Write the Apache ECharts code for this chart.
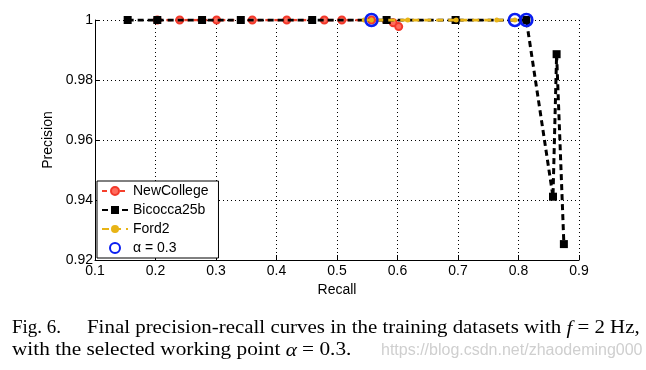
<!DOCTYPE html>
<html>
<head>
<meta charset="utf-8">
<script src="https://cdn.jsdelivr.net/npm/echarts@6/dist/echarts.min.js"></script>
<style>
html,body{margin:0;padding:0;background:#fff;}
#c{width:646px;height:370px;}
</style>
</head>
<body>
<div id="c"></div>
<script>
// ---- data ----
const xTicks = [0.1, 0.2, 0.3, 0.4, 0.5, 0.6, 0.7, 0.8, 0.9];
const yTicks = [0.92, 0.94, 0.96, 0.98, 1];

const newCollegeRecall = [0.203, 0.240, 0.301, 0.360, 0.417, 0.479, 0.508, 0.557, 0.593, 0.602];
const newCollegePrec   = [1, 1, 1, 1, 1, 1, 1, 1, 0.9991, 0.9978];

const bicoccaRecall = [0.154, 0.203, 0.277, 0.341, 0.459, 0.582, 0.696, 0.813, 0.857, 0.863, 0.875];
const bicoccaPrec   = [1, 1, 1, 1, 1, 1, 1, 1, 0.9411, 0.9886, 0.9253];

const ford2Recall = [0.545, 0.557, 0.617, 0.697, 0.764, 0.794];
const ford2Prec   = [1, 1, 1, 1, 1, 1];

const alphaRecall = [0.557, 0.794, 0.813];
const alphaPrec   = [1, 1, 1];

const seriesNames = ['NewCollege', 'Bicocca25b', 'Ford2', 'α = 0.3'];

function pairs(xs, ys) { return xs.map((x, i) => [x, ys[i]]); }

const FONT = '"Liberation Sans", Arial, sans-serif';
const SERIF = '"Liberation Serif", "Times New Roman", serif';

const chart = echarts.init(document.getElementById('c'), null, {renderer: 'canvas'});
chart.setOption({
  animation: false,
  backgroundColor: '#fff',
  grid: {left: 95, right: 67, top: 20, bottom: 110},
  xAxis: {
    type: 'value', min: 0.1, max: 0.9, interval: 0.1,
    name: 'Recall', nameLocation: 'middle', nameGap: 18,
    nameTextStyle: {fontFamily: FONT, fontSize: 14, color: '#000'},
    axisLine: {show: true, onZero: false, lineStyle: {color: '#000', width: 1}},
    axisTick: {show: true, inside: true, length: 5, lineStyle: {color: '#000'}},
    axisLabel: {fontFamily: FONT, fontSize: 14, color: '#000', margin: 4,
      formatter: v => (+v.toFixed(2)).toString()},
    splitLine: {show: true, lineStyle: {color: '#000', type: [1, 3], width: 1}}
  },
  yAxis: {
    type: 'value', min: 0.92, max: 1, interval: 0.02,
    name: 'Precision', nameLocation: 'middle', nameGap: 36, nameRotate: 90,
    nameTextStyle: {fontFamily: FONT, fontSize: 14, color: '#000'},
    axisLine: {show: true, onZero: false, lineStyle: {color: '#000', width: 1}},
    axisTick: {show: true, inside: true, length: 5, lineStyle: {color: '#000'}},
    axisLabel: {fontFamily: FONT, fontSize: 14, color: '#000', margin: 2,
      formatter: v => (+v.toFixed(2)).toString()},
    splitLine: {show: true, lineStyle: {color: '#000', type: [1, 3], width: 1}}
  },
  legend: {
    orient: 'vertical', left: 97, top: 181,
    data: seriesNames,
    itemWidth: 26, itemHeight: 10, itemGap: 5,
    padding: [3, 10, 3, 4],
    borderColor: '#000', borderWidth: 1, borderRadius: 0,
    backgroundColor: '#fff',
    textStyle: {fontFamily: FONT, fontSize: 14, color: '#000'}
  },
  series: [
    {
      name: seriesNames[0], type: 'line', data: pairs(newCollegeRecall, newCollegePrec),
      symbol: 'circle', symbolSize: 7, showAllSymbol: true,
      lineStyle: {color: '#f5402c', width: 2.5, type: [5, 4]},
      itemStyle: {color: '#ff6b5c', borderColor: '#f2382a', borderWidth: 2},
      z: 2
    },
    {
      name: seriesNames[1], type: 'line', data: pairs(bicoccaRecall, bicoccaPrec),
      symbol: 'rect', symbolSize: 8, showAllSymbol: true,
      lineStyle: {color: '#000', width: 3, type: [6, 4]},
      itemStyle: {color: '#000'},
      z: 3
    },
    {
      name: seriesNames[2], type: 'line', data: pairs(ford2Recall, ford2Prec),
      symbol: 'circle', symbolSize: 5, showAllSymbol: true,
      lineStyle: {color: '#e8b416', width: 3, type: [7, 5]},
      itemStyle: {color: '#e8b416'},
      z: 4
    },
    {
      name: seriesNames[3], type: 'scatter', data: pairs(alphaRecall, alphaPrec),
      symbol: 'circle', symbolSize: 12, clip: false,
      itemStyle: {color: 'rgba(0,0,0,0)', borderColor: '#0a1ef0', borderWidth: 2.5, opacity: 1},
      z: 5
    }
  ],
  graphic: [
    {
      type: 'text', left: 12, top: 319,
      style: {text: 'Fig. 6.', fontFamily: SERIF, fontSize: 19, fill: '#000'}
    },
    {
      type: 'text', x: 87, y: 319, scaleX: 1.1,
      style: {
        text: '{n|Final precision-recall curves in the training datasets with }{i|f}{n| = 2 Hz,}',
        rich: {
          n: {fontFamily: SERIF, fontSize: 19, fill: '#000'},
          i: {fontFamily: SERIF, fontSize: 19, fontStyle: 'italic', fill: '#000'}
        }
      }
    },
    {
      type: 'text', x: 12, y: 341, scaleX: 1.12,
      style: {
        text: '{n|with the selected working point }{i|α}{n| = 0.3.}',
        rich: {
          n: {fontFamily: SERIF, fontSize: 19, fill: '#000'},
          i: {fontFamily: SERIF, fontSize: 19, fontStyle: 'italic', fill: '#000'}
        }
      }
    },
    {
      type: 'text', left: 381, top: 343,
      style: {text: 'https://blog.csdn.net/zhaodeming000', fontFamily: FONT, fontSize: 16, fill: '#cfcfcf'}
    }
  ]
});
</script>
</body>
</html>
